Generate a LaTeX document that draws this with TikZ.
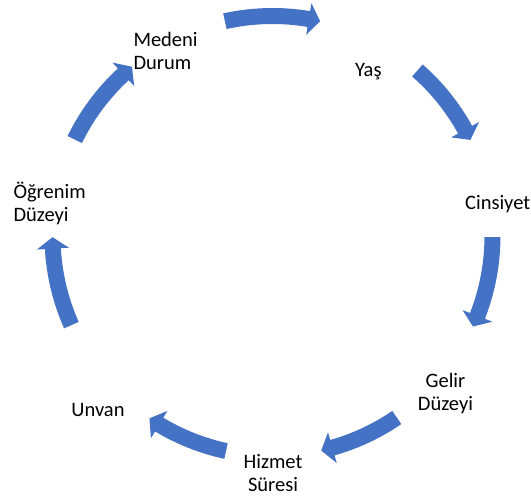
\documentclass[tikz,border=0pt]{standalone}
\usepackage{fontspec}
\setmainfont{Carlito}
\definecolor{arrowblue}{HTML}{4472C4}
\tikzset{
  lbl/.style={inner sep=0pt, font=\fontsize{20.5}{23}\selectfont, text=black},
  lblL/.style={lbl, anchor=base west, align=left, text width=90pt},
  lblC/.style={lbl, anchor=base, align=center, text width=90pt},
  arrowfill/.style={fill=arrowblue}
}
\begin{document}
\begin{tikzpicture}[x=1pt,y=1pt]
\useasboundingbox (0,0) rectangle (531,499);
% cycle of curved block arrows (tail / tip given as clockwise angles from the top)
\begin{scope}[shift={(272.5,263)}]
\foreach \ta/\tb in {-12.5/12.5, 41.2/64.1, 90.3/114.3, 145.6/167.2, 192.2/214, 246.1/269.7, 296/320.3} {
  \pgfmathsetmacro\aa{90-\ta}
  \pgfmathsetmacro\ab{90-\tb+3}
  \pgfmathsetmacro\ac{90-\tb}
  \fill[arrowfill] (\aa:228) arc[start angle=\aa, end angle=\ab, radius=228]
     -- (\ab:236) -- (\ac:220) -- (\ab:204) -- (\ab:212)
     arc[start angle=\ab, end angle=\aa, radius=212] -- cycle;
}
\end{scope}
% labels
\node[lblL] (medeni) at (133.3,452.3) {Medeni\\Durum};
\node[lblC] (yas) at (368.3,422.3) {Yaş};
\node[lblC] (cinsiyet) at (497.7,289) {Cinsiyet};
\node[lblC] (gelir) at (445.5,111) {Gelir\\Düzeyi};
\node[lblC] (hizmet) at (273,30.7) {Hizmet\\Süresi};
\node[lblC] (unvan) at (98,83) {Unvan};
\node[lblL] (ogrenim) at (13.3,300.7) {Öğrenim\\Düzeyi};
\end{tikzpicture}
\end{document}
